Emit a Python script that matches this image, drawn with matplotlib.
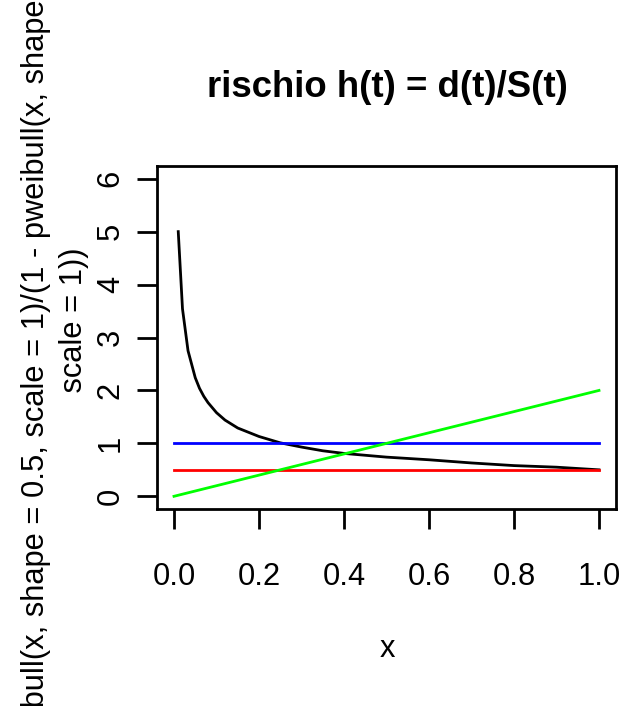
import matplotlib
matplotlib.use("Agg")
import matplotlib.pyplot as plt
import numpy as np

plt.rcParams['font.family'] = ['Liberation Sans', 'DejaVu Sans']

# black curve: hazard of Weibull(shape=0.5, scale=1)
x_black = [0.01, 0.02, 0.033, 0.05, 0.06, 0.07, 0.08, 0.10, 0.12, 0.15,
           0.20, 0.25, 0.30, 0.35, 0.40, 0.50, 0.60, 0.70, 0.80, 0.90, 1.00]
y_black = [5.00, 3.54, 2.75, 2.24, 2.04, 1.89, 1.77, 1.58, 1.44, 1.29,
           1.13, 1.01, 0.93, 0.86, 0.81, 0.74, 0.69, 0.63, 0.58, 0.55, 0.50]
# blue: constant hazard 1
x_blue = [0.0, 1.0]
y_blue = [1.0, 1.0]
# red: constant hazard 0.5
x_red = [0.0, 1.0]
y_red = [0.49, 0.49]
# green: linear hazard
x_green = [0.0, 1.0]
y_green = [0.0, 2.0]

xticks = [0.0, 0.2, 0.4, 0.6, 0.8, 1.0]
xticklabels = ["0.0", "0.2", "0.4", "0.6", "0.8", "1.0"]
yticks = [0, 1, 2, 3, 4, 5, 6]

title = "rischio h(t) = d(t)/S(t)"
ylab1 = "dweibull(x, shape = 0.5, scale = 1)/(1 - pweibull(x, shape = 0.5, "
ylab2 = "    scale = 1))"
xlab = "x"

W, H = 637, 706
fig = plt.figure(figsize=(W / 100, H / 100), dpi=100)
L, R, T, B = 157, 616, 166, 509
ax = fig.add_axes([L / W, 1 - B / H, (R - L) / W, (B - T) / H])

lw = 2.0
ax.plot(x_black, y_black, color='black', lw=lw)
ax.plot(x_blue, y_blue, color='#0000ff', lw=lw)
ax.plot(x_red, y_red, color='#ff0000', lw=lw)
ax.plot(x_green, y_green, color='#00ff00', lw=lw)

ax.set_xlim(-0.04, 1.04)
ax.set_ylim(-0.24, 6.24)
ax.set_xticks(xticks)
ax.set_xticklabels(xticklabels)
ax.set_yticks(yticks)
ax.set_yticklabels([str(v) for v in yticks], rotation=90, va='center')
fs = 22.2
ax.tick_params(axis='both', direction='out', length=14.5, width=2.0, labelsize=fs, color='black')
ax.tick_params(axis='x', pad=24)
ax.tick_params(axis='y', pad=8)
for s in ax.spines.values():
    s.set_linewidth(2.0)

fig.text(387 / W, 1 - 97 / H, title, ha='center', va='baseline', fontsize=26.4, fontweight='bold')
yc = 1 - (T + B) / 2 / H
fig.text(44 / W, yc, ylab1, rotation=90, rotation_mode='anchor', ha='center', va='baseline', fontsize=fs)
fig.text(82 / W, yc, ylab2, rotation=90, rotation_mode='anchor', ha='center', va='baseline', fontsize=fs)
fig.text(387 / W, 1 - 657 / H, xlab, ha='center', va='baseline', fontsize=fs)

fig.savefig("out.png", dpi=100)
